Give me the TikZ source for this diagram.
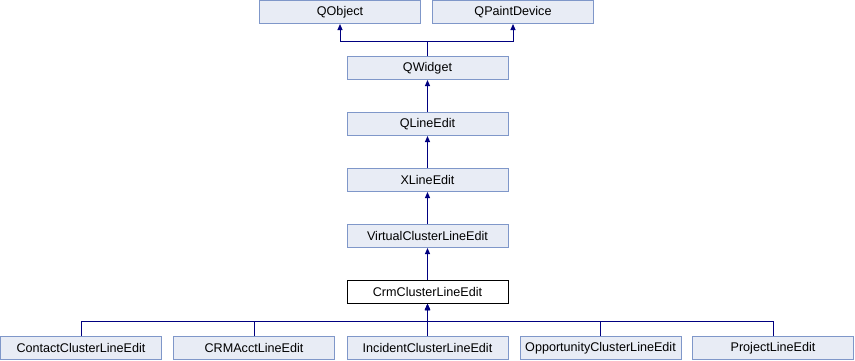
\documentclass[tikz,border=0pt]{standalone}
\usepackage{fontspec}
\setmainfont{Liberation Sans}
\usetikzlibrary{arrows.meta}
\definecolor{boxfill}{HTML}{E8ECF5}
\definecolor{boxline}{HTML}{7F97C9}
\definecolor{edge}{HTML}{000080}
\begin{document}
\begin{tikzpicture}[x=1pt,y=1pt,
  cls/.style={draw=boxline, fill=boxfill, line width=1pt, minimum width=161pt,
    minimum height=23pt, inner sep=0pt, font=\fontsize{12.6}{14}\selectfont},
  cur/.style={cls, draw=black, fill=white},
  inh/.style={draw=edge, line width=1pt, -{Triangle[length=6pt,width=5pt]}}]
\useasboundingbox (0,0) rectangle (855,-360);
% base classes
\node[cls] (qobject) at (340,-12) {QObject};
\node[cls] (qpaint) at (513,-12) {QPaintDevice};
% main chain
\node[cls] (qwidget) at (427.5,-68) {QWidget};
\node[cls] (qlineedit) at (427.5,-124) {QLineEdit};
\node[cls] (xlineedit) at (427.5,-180) {XLineEdit};
\node[cls] (virtual) at (427.5,-236) {VirtualClusterLineEdit};
\node[cur] (crm) at (427.5,-292) {CrmClusterLineEdit};
% derived classes
\node[cls] (contact) at (81,-348) {ContactClusterLineEdit};
\node[cls] (crmacct) at (254,-348) {CRMAcctLineEdit};
\node[cls] (incident) at (427.5,-348) {IncidentClusterLineEdit};
\node[cls] (opport) at (600.5,-348) {OpportunityClusterLineEdit};
\node[cls] (project) at (773,-348) {ProjectLineEdit};
% bus levels
\coordinate (topbus) at (0,-41);
\coordinate (botbus) at (0,-321);
% inheritance edges
\draw[inh] (qwidget.north) -- (qwidget.north |- topbus) -| (qobject.south);
\draw[inh] (qwidget.north) -- (qwidget.north |- topbus) -| (qpaint.south);
\draw[inh] (qlineedit.north) -- (qwidget.south);
\draw[inh] (xlineedit.north) -- (qlineedit.south);
\draw[inh] (virtual.north) -- (xlineedit.south);
\draw[inh] (crm.north) -- (virtual.south);
\foreach \c in {contact,crmacct,incident,opport,project}
  \draw[inh] (\c.north) -- (\c.north |- botbus) -| (crm.south);
\end{tikzpicture}
\end{document}
